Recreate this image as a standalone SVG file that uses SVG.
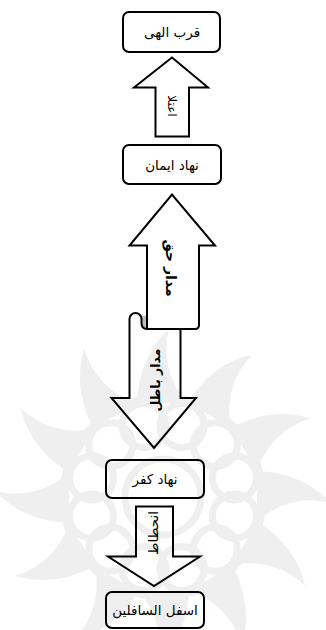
<svg xmlns="http://www.w3.org/2000/svg" width="326" height="630" viewBox="0 0 326 630">
  <style>
    .box { fill: none; stroke: #000; stroke-width: 2; }
    .arrow { fill: none; stroke: #000; stroke-width: 2; stroke-linejoin: miter; }
    .lbl { font-family: "DejaVu Sans", "Noto Sans", sans-serif; font-size: 13.5px; fill: #000; text-anchor: middle; dominant-baseline: central; }
    .alb { font-family: "DejaVu Sans", "Noto Sans", sans-serif; font-size: 12px; fill: #000; text-anchor: middle; dominant-baseline: central; }
    .bold { font-weight: bold; }
    .wm { fill: #efefef; }
    .wmline { fill: none; stroke: #efefef; stroke-width: 7; }
  </style>
  <defs>
    <!-- one curved thorn of the rosette, pointing up -->
    <path id="blade" d="M -26,-94 Q -24,-140 6,-168 Q -4,-128 24,-94 Z"/>
    <circle id="ringc" cx="0" cy="-74" r="22"/>
  </defs>
  <rect width="326" height="630" fill="#fff"/>

  <!-- background rosette -->
  <g id="rosette" transform="translate(163,497)">
    <g class="wm">
      <use href="#blade"/>
      <use href="#blade" transform="rotate(30)"/>
      <use href="#blade" transform="rotate(60)"/>
      <use href="#blade" transform="rotate(90)"/>
      <use href="#blade" transform="rotate(120)"/>
      <use href="#blade" transform="rotate(150)"/>
      <use href="#blade" transform="rotate(180)"/>
      <use href="#blade" transform="rotate(210)"/>
      <use href="#blade" transform="rotate(240)"/>
      <use href="#blade" transform="rotate(270)"/>
      <use href="#blade" transform="rotate(300)"/>
      <use href="#blade" transform="rotate(330)"/>
    </g>
    <circle class="wmline" r="100"/>
    <g class="wmline">
      <use href="#ringc" transform="rotate(15)"/>
      <use href="#ringc" transform="rotate(45)"/>
      <use href="#ringc" transform="rotate(75)"/>
      <use href="#ringc" transform="rotate(105)"/>
      <use href="#ringc" transform="rotate(135)"/>
      <use href="#ringc" transform="rotate(165)"/>
      <use href="#ringc" transform="rotate(195)"/>
      <use href="#ringc" transform="rotate(225)"/>
      <use href="#ringc" transform="rotate(255)"/>
      <use href="#ringc" transform="rotate(285)"/>
      <use href="#ringc" transform="rotate(315)"/>
      <use href="#ringc" transform="rotate(345)"/>
    </g>
    <circle class="wmline" r="38"/>
  </g>

  <!-- connectors: block arrows -->
  <g id="connectors">
    <g id="arrow-rise">
      <path class="arrow" d="M155.5,136.5 L155.5,87.5 L134,87.5 L172,57.5 L208,87.5 L189,87.5 L189,136.5 Z"/>
      <text class="alb" transform="translate(172,106) rotate(90)">اعتلا</text>
    </g>
    <g id="arrow-false">
      <path d="M141.5,319 A3 3 0 0 1 147,317 L147,329 Q141.5,329 141.5,323 Z" fill="#bdbdbd"/>
      <path class="arrow" d="M180.5,329 L180.5,398 L196,398 L154,448 L111.5,398 L129.5,398 L129.5,319 A6 6 0 0 1 141.5,319 L141.5,323 Q141.5,329 147,329"/>
      <text class="alb bold" style="font-size:12.5px" transform="translate(155,380) rotate(-90)">مدار باطل</text>
    </g>
    <g id="arrow-truth">
      <path class="arrow" d="M147,329 L147,245.5 L129.5,245.5 L172,194.5 L215,245.5 L199,245.5 L199,325 Q199,329 195,329 Z"/>
      <text class="alb bold" style="font-size:14px" transform="translate(171,268) rotate(90)">مدار حق</text>
    </g>
    <g id="arrow-fall">
      <path class="arrow" d="M136,506.5 L136,556.5 L108,556.5 L154,586 L200,556.5 L173,556.5 L173,506.5 Z"/>
      <text class="alb" style="font-size:13.5px" transform="translate(153,533) rotate(-90)">انحطاط</text>
    </g>
  </g>

  <!-- nodes -->
  <g id="node-qorb">
    <rect class="box" x="123" y="12" width="97" height="40" rx="6"/>
    <text class="lbl" x="172" y="32">قرب الهی</text>
  </g>
  <g id="node-iman">
    <rect class="box" x="123" y="145" width="98" height="39" rx="6"/>
    <text class="lbl" x="172" y="164.5">نهاد ایمان</text>
  </g>
  <g id="node-kofr">
    <rect class="box" x="106" y="460" width="98" height="38" rx="6"/>
    <text class="lbl" x="155" y="479">نهاد کفر</text>
  </g>
  <g id="node-asfal">
    <rect class="box" x="106" y="592" width="98" height="36" rx="6"/>
    <text class="lbl" x="155" y="610">اسفل السافلین</text>
  </g>
</svg>
